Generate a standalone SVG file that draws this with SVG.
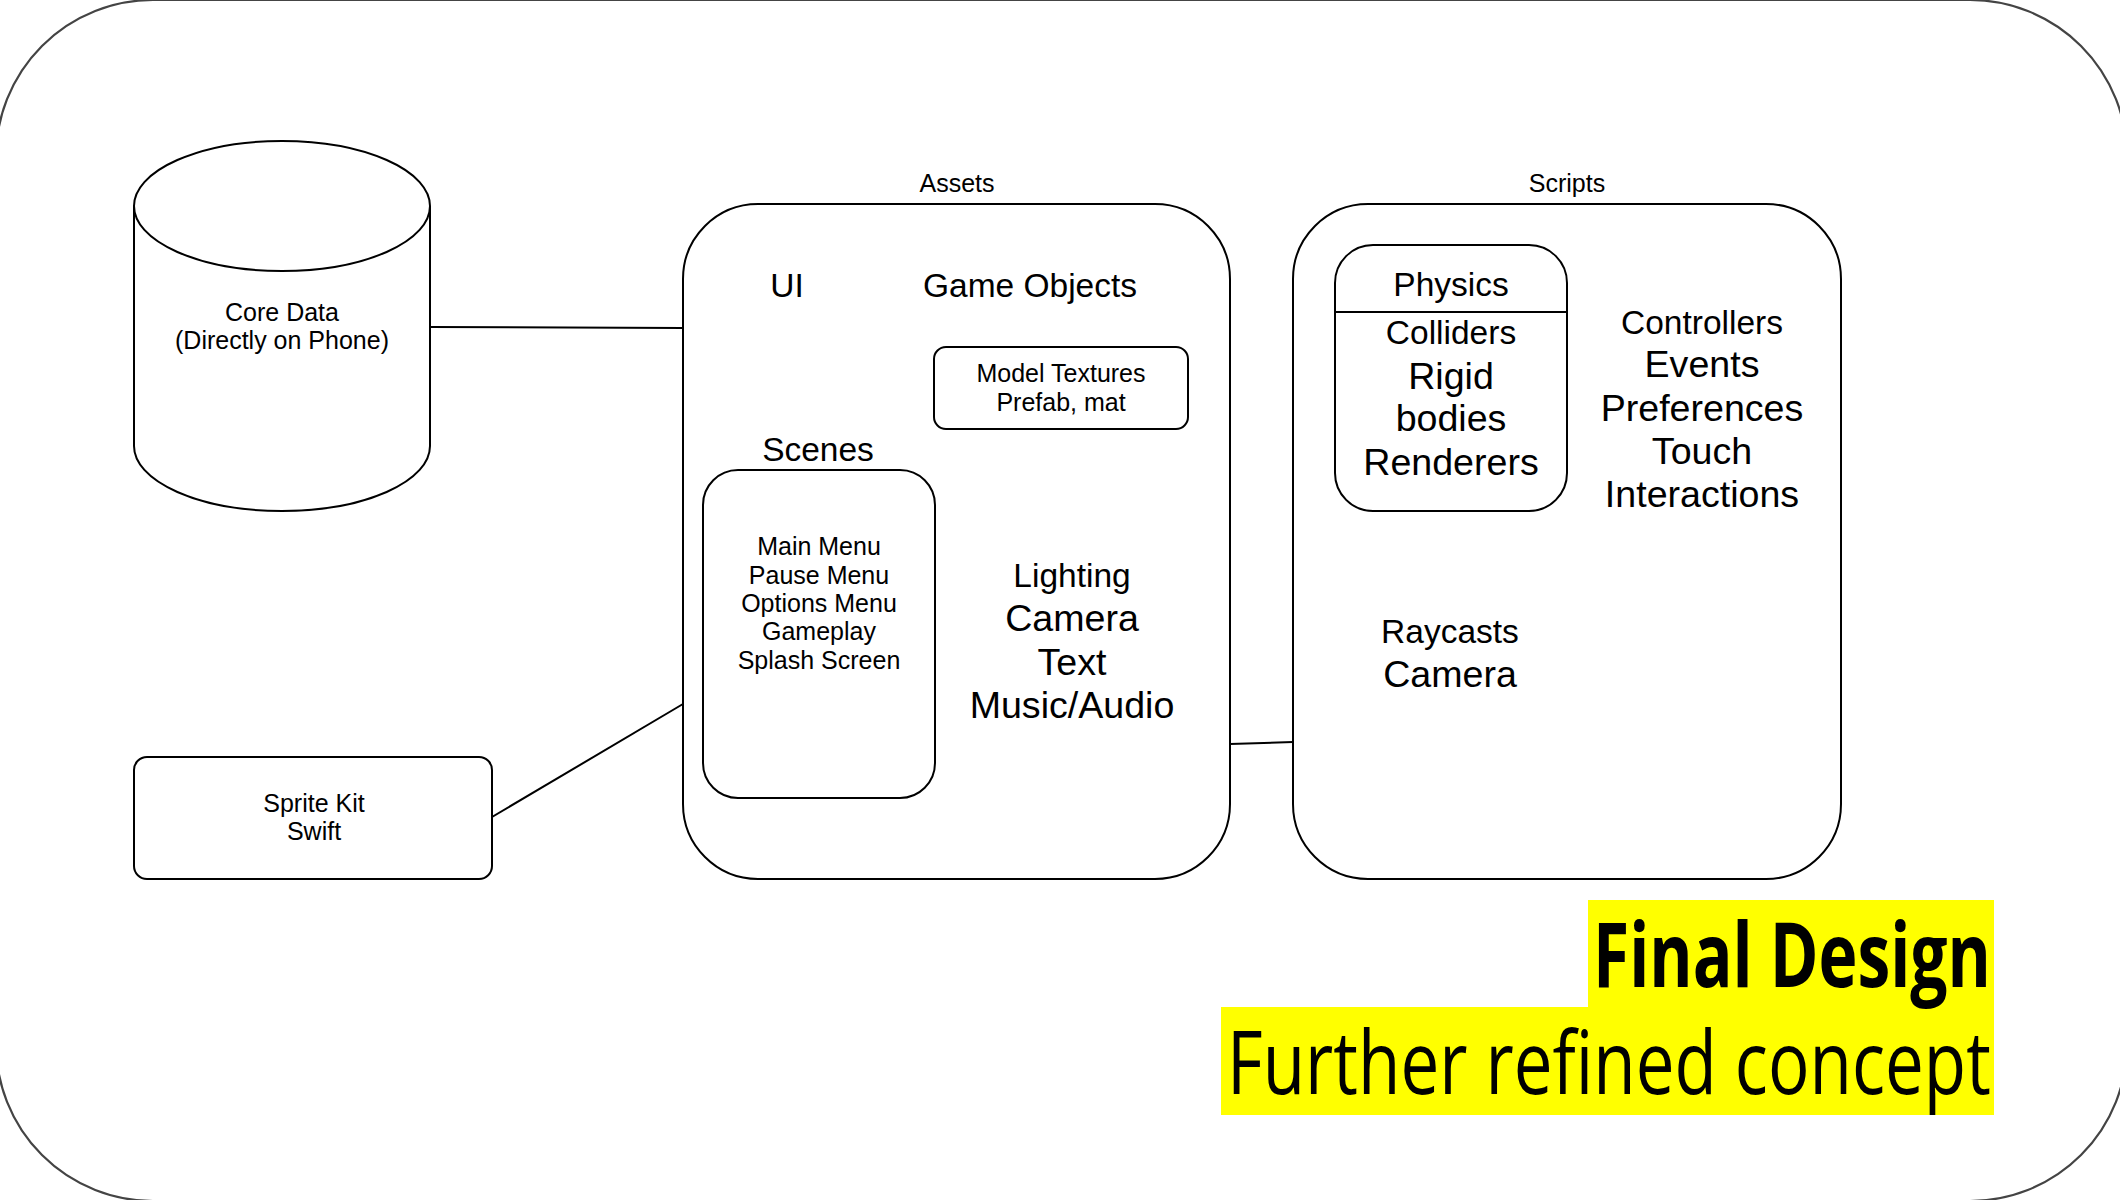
<svg xmlns="http://www.w3.org/2000/svg" width="2120" height="1200" viewBox="0 0 2120 1200">
<style>
.frame{fill:none;stroke:#444;stroke-width:2.2}
.box{fill:#fff;stroke:#000;stroke-width:2}
.ln{fill:none;stroke:#000;stroke-width:2}
.t{font-family:"Liberation Sans",Arial,Helvetica,sans-serif;fill:#000;text-anchor:middle}
.s{font-size:25px}
.m{font-size:33.5px}
.l{font-size:37.6px}
.hl{fill:#ffff00}
.big{font-family:"Open Sans","Noto Sans",sans-serif;fill:#000}
</style>
<rect width="2120" height="1200" fill="#fff"/>
<rect class="frame" x="-4" y="0" width="2131" height="1201" rx="157" ry="157"/>

<g id="connectors">
<line class="ln" x1="430" y1="327" x2="683" y2="328"/>
<line class="ln" x1="492" y1="817" x2="683" y2="704"/>
<line class="ln" x1="1230" y1="744" x2="1293" y2="742"/>
</g>

<g id="core-data">
<path class="box" d="M134,206 L134,446 A148,65 0 0 0 430,446 L430,206 A148,65 0 0 0 134,206 Z"/>
<path class="ln" d="M134,206 A148,65 0 0 0 430,206"/>
<text class="t s" x="282" y="321">Core Data</text>
<text class="t s" x="282" y="349">(Directly on Phone)</text>
</g>

<g id="sprite-kit">
<rect class="box" x="134" y="757" width="358" height="122" rx="13"/>
<text class="t s" x="314" y="812">Sprite Kit</text>
<text class="t s" x="314" y="840">Swift</text>
</g>

<g id="assets">
<text class="t s" x="957" y="192">Assets</text>
<rect class="box" x="683" y="204" width="547" height="675" rx="75"/>
<text class="t m" x="787" y="297">UI</text>
<text class="t m" x="1030" y="297">Game Objects</text>
<text class="t m" x="818" y="461">Scenes</text>
<text class="t m" x="1072" y="587">Lighting</text>
<text class="t l" x="1072" y="631">Camera</text>
<text class="t l" x="1072" y="675">Text</text>
<text class="t l" x="1072" y="718">Music/Audio</text>
</g>

<g id="model-textures">
<rect class="box" x="934" y="347" width="254" height="82" rx="12"/>
<text class="t s" x="1061" y="382">Model Textures</text>
<text class="t s" x="1061" y="411">Prefab, mat</text>
</g>

<g id="scenes">
<rect class="box" x="703" y="470" width="232" height="328" rx="35"/>
<text class="t s" x="819" y="555">Main Menu</text>
<text class="t s" x="819" y="584">Pause Menu</text>
<text class="t s" x="819" y="612">Options Menu</text>
<text class="t s" x="819" y="640">Gameplay</text>
<text class="t s" x="819" y="669">Splash Screen</text>
</g>

<g id="scripts">
<text class="t s" x="1567" y="192">Scripts</text>
<rect class="box" x="1293" y="204" width="548" height="675" rx="75"/>
<text class="t m" x="1702" y="334">Controllers</text>
<text class="t l" x="1702" y="377">Events</text>
<text class="t l" x="1702" y="421">Preferences</text>
<text class="t l" x="1702" y="464">Touch</text>
<text class="t l" x="1702" y="507">Interactions</text>
<text class="t m" x="1450" y="643">Raycasts</text>
<text class="t l" x="1450" y="687">Camera</text>
</g>

<g id="physics">
<rect class="box" x="1335" y="245" width="232" height="266" rx="38"/>
<line class="ln" x1="1335" y1="312" x2="1567" y2="312"/>
<text class="t m" x="1451" y="296">Physics</text>
<text class="t m" x="1451" y="344">Colliders</text>
<text class="t l" x="1451" y="389">Rigid</text>
<text class="t l" x="1451" y="431">bodies</text>
<text class="t l" x="1451" y="475">Renderers</text>
</g>

<g id="title">
<rect class="hl" x="1588" y="900" width="406" height="108"/>
<rect class="hl" x="1221" y="1007" width="773" height="108"/>
<text class="big" transform="translate(1593,987) scale(0.741,1)" x="0" y="0" font-size="90" font-weight="bold" textLength="537" lengthAdjust="spacingAndGlyphs">Final Design</text>
<text class="big" transform="translate(1227,1094) scale(0.794,1)" x="0" y="0" font-size="87" textLength="962" lengthAdjust="spacingAndGlyphs">Further refined concept</text>
</g>
</svg>
